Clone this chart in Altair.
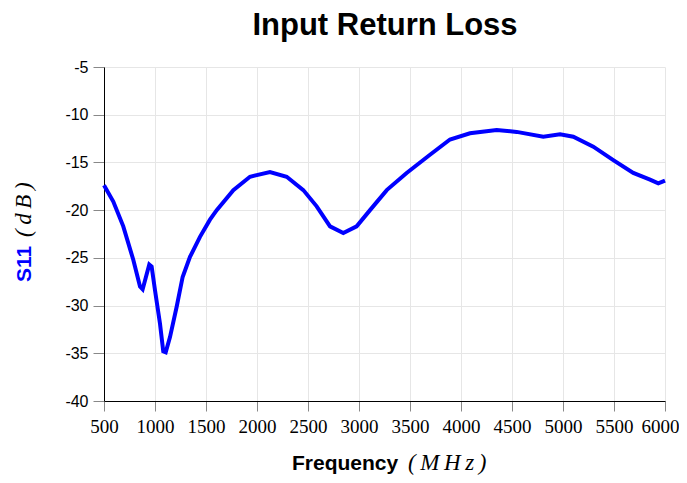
import altair as alt
import pandas as pd

freq_mhz = [500, 591, 689, 787, 853, 879, 944, 967, 1000, 1049, 1081, 1105, 1147, 1213, 1271,
            1343, 1441, 1539, 1605, 1768, 1931, 2127, 2291, 2454, 2585, 2716, 2846, 2977,
            3108, 3272, 3467, 3696, 3892, 4088, 4350, 4546, 4807, 4971, 5101, 5297, 5493,
            5689, 5853, 5934, 6000]
s11_db = [-17.4, -19.1, -21.7, -25.2, -28.0, -28.3, -25.7, -25.9, -28.4, -31.9, -34.8, -34.9,
          -33.3, -30.1, -27.0, -24.9, -22.8, -21.0, -20.0, -17.9, -16.5, -16.0, -16.5, -17.9,
          -19.6, -21.7, -22.4, -21.7, -20.0, -17.9, -16.1, -14.2, -12.6, -11.95, -11.6,
          -11.8, -12.3, -12.05, -12.3, -13.35, -14.75, -16.1, -16.8, -17.2, -16.9]
x_ticks = [500, 1000, 1500, 2000, 2500, 3000, 3500, 4000, 4500, 5000, 5500, 6000]
y_ticks = [-40, -35, -30, -25, -20, -15, -10, -5]

title_text = "Input Return Loss"
x_title_bold = "Frequency"
x_title_unit = "(\u2009M\u2009H\u2009z\u2009)"
y_title_bold = "S11"
y_title_unit = "(\u2009d\u2009B\u2009)"

df = pd.DataFrame({"freq": freq_mhz, "s11": s11_db})

line = alt.Chart(df).mark_line(color="#0000ff", strokeWidth=4).encode(
    x=alt.X("freq:Q", scale=alt.Scale(domain=[500, 6000], nice=False, zero=False),
            axis=alt.Axis(values=x_ticks, title=None, labelFont="Liberation Serif",
                          labelFontSize=19, labelColor="#000", labelPadding=6,
                          labelExpr="toString(datum.value)",
                          labelOffset={"condition": {"test": "datum.value === 6000", "value": -5},
                                       "value": 0},
                          tickSize=10, tickColor="#888", domainColor="#000",
                          gridColor="#e6e6e6", labelFlush=False)),
    y=alt.Y("s11:Q", scale=alt.Scale(domain=[-40, -5], nice=False, zero=False),
            axis=alt.Axis(values=y_ticks, title=None, labelFont="Liberation Sans",
                          labelFontSize=16, labelColor="#000", labelPadding=5,
                          labelExpr="toString(datum.value)",
                          tickSize=11, tickColor="#888", domainColor="#000",
                          gridColor="#e6e6e6", labelFlush=False)),
)

def txt(s, x, y, **kw):
    return alt.Chart(pd.DataFrame({"t": [s]})).mark_text(**kw).encode(
        text="t:N", x=alt.value(x), y=alt.value(y))

title = txt(title_text, 281, -32, font="Liberation Sans", fontSize=31, fontWeight="bold",
            align="center", baseline="alphabetic", color="#000")
xt1 = txt(x_title_bold, 188, 403, font="Liberation Sans", fontSize=21, fontWeight="bold",
          align="left", baseline="alphabetic", color="#000")
xt2 = txt(x_title_unit, 304, 403, font="Liberation Serif", fontSize=23, fontStyle="italic",
          align="left", baseline="alphabetic", color="#000")
yt1 = txt(y_title_bold, -73, 215, font="Liberation Sans", fontSize=21, fontWeight="bold",
          align="left", baseline="alphabetic", angle=270, color="#0000ff")
yt2 = txt(y_title_unit, -73, 170, font="Liberation Serif", fontSize=23, fontStyle="italic",
          align="left", baseline="alphabetic", angle=270, color="#000")

chart = alt.layer(line, title, xt1, xt2, yt1, yt2).properties(
    width=561, height=334,
    autosize=alt.AutoSizeParams(type="none"),
    padding={"left": 96, "top": 59, "right": 14, "bottom": 74},
).configure_view(stroke=None).configure_axis(grid=True)

chart.save("out.html", embed_options={"renderer": "svg", "actions": False})
